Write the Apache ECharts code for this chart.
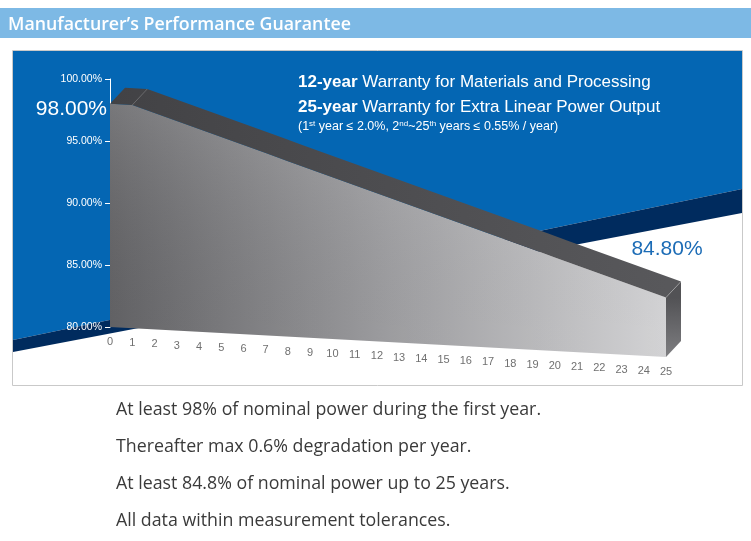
<!DOCTYPE html>
<html>
<head>
<meta charset="utf-8">
<script src="https://cdn.jsdelivr.net/npm/echarts@6/dist/echarts.min.js"></script>
<style>
html,body{margin:0;padding:0;background:#fff;}
#c{width:751px;height:541px;}
</style>
</head>
<body>
<div id="c"></div>
<script>
// ---- data ----
const headerTitle = 'Manufacturer\u2019s Performance Guarantee';
const years = [0,1,2,3,4,5,6,7,8,9,10,11,12,13,14,15,16,17,18,19,20,21,22,23,24,25];
const yearLabels = ['0','1','2','3','4','5','6','7','8','9','10','11','12','13','14','15','16','17','18','19','20','21','22','23','24','25'];
const guarantee = [98.00,98.00,97.45,96.90,96.35,95.80,95.25,94.70,94.15,93.60,93.05,92.50,91.95,91.40,90.85,90.30,89.75,89.20,88.65,88.10,87.55,87.00,86.45,85.90,85.35,84.80];
const yMin = 80, yMax = 100, yStep = 5;
const notes = [
  'At least 98% of nominal power during the first year.',
  'Thereafter max 0.6% degradation per year.',
  'At least 84.8% of nominal power up to 25 years.',
  'All data within measurement tolerances.'
];

// ---- style constants ----
const SHEAR = 30;          // px the floor drops from year 0 to year 25
const OFF = [15, -16];     // extrusion offset of the block
const SANS = '"Liberation Sans", Arial, sans-serif';
const BODY = '"Open Sans", Lato, sans-serif';

const chart = echarts.init(document.getElementById('c'), null, {renderer: 'canvas'});

function renderItem(params, api) {
  const i = params.dataIndex;
  const last = years.length - 1;
  const o = api.coord([years[0], yMin]);
  const e = api.coord([years[last], yMin]);
  const span = e[0] - o[0];
  const sh = p => [p[0], p[1] + (p[0] - o[0]) / span * SHEAR];
  const add = p => [p[0] + OFF[0], p[1] + OFF[1]];
  const yr = api.value(0);
  const A0 = sh(api.coord([yr, yMin]));
  const children = [];
  children.push({
    type: 'text', z2: 5,
    style: {text: yearLabels[i], x: A0[0], y: A0[1] + 15, align: 'center', verticalAlign: 'middle',
            fill: '#707070', fontSize: 11, fontFamily: SANS}
  });
  if (i === last) {
    const tops = years.map((y, k) => sh(api.coord([y, guarantee[k]])));
    const bottoms = years.map(y => sh(api.coord([y, yMin])));
    const frontGrad = new echarts.graphic.LinearGradient(o[0], 0, e[0], 0, [
      {offset: 0, color: '#656568'}, {offset: 0.5, color: '#a2a2a5'}, {offset: 1, color: '#dbdbdd'}
    ], true);
    const shadeGrad = new echarts.graphic.LinearGradient(0, tops[0][1], 0, o[1], [
      {offset: 0, color: 'rgba(255,255,255,0.12)'}, {offset: 1, color: 'rgba(0,0,0,0.04)'}
    ], true);
    const topGrad = new echarts.graphic.LinearGradient(o[0], 0, e[0], 0, [
      {offset: 0, color: '#424245'}, {offset: 1, color: '#58585b'}
    ], true);
    const frontPts = [bottoms[0]].concat(tops).concat([bottoms[last]]);
    children.push({type: 'polygon', shape: {points: frontPts}, style: {fill: frontGrad}});
    children.push({type: 'polygon', shape: {points: frontPts}, style: {fill: shadeGrad}});
    const topPts = tops.concat(tops.slice().reverse().map(add));
    children.push({type: 'polygon', shape: {points: topPts}, style: {fill: topGrad}});
    const T = tops[last], Bt = bottoms[last];
    const sideGrad = new echarts.graphic.LinearGradient(0, T[1], 0, Bt[1], [
      {offset: 0, color: '#525255'}, {offset: 1, color: '#7e7e81'}
    ], true);
    children.push({type: 'polygon', shape: {points: [T, Bt, add(Bt), add(T)]}, style: {fill: sideGrad}});
    [tops[1], T].forEach(p => {
      const q = add(p);
      children.push({type: 'line', z2: 3, shape: {x1: p[0], y1: p[1], x2: q[0], y2: q[1]},
        style: {stroke: 'rgba(255,255,255,0.3)', lineWidth: 0.7}});
    });
    children.push({type: 'text', z2: 6,
      style: {text: guarantee[last].toFixed(2) + '%', x: T[0] + 1, y: T[1] - 48, align: 'center', verticalAlign: 'middle',
              fill: '#1c6cb6', fontSize: 21, fontFamily: SANS}});
    children.push({type: 'text', z2: 6,
      style: {text: guarantee[0].toFixed(2) + '%', x: tops[0][0] - 3, y: tops[0][1] + 5, align: 'right', verticalAlign: 'middle',
              fill: '#ffffff', fontSize: 21, fontFamily: SANS}});
  }
  return {type: 'group', children: children};
}

const graphics = [
  {type: 'rect', z: -10, shape: {x: 0, y: 8, width: 751, height: 30}, style: {fill: '#7db9e5'}},
  {type: 'text', z: -9, style: {text: headerTitle, x: 8, y: 25, verticalAlign: 'middle',
     fill: '#ffffff', fontSize: 17.8, fontWeight: 600, fontFamily: BODY}},
  {type: 'rect', z: -10, shape: {x: 12.5, y: 50.5, width: 730, height: 335},
     style: {fill: '#ffffff', stroke: '#c9c9c9', lineWidth: 1}},
  {type: 'polygon', z: -9, shape: {points: [[13, 51], [742, 51], [742, 189], [13, 340]]}, style: {fill: '#0466b3'}},
  {type: 'polygon', z: -9, shape: {points: [[13, 340], [742, 189], [742, 213], [13, 352]]}, style: {fill: '#002b5e'}},
  {type: 'text', z: 50, style: {
     text: '{b|12-year} Warranty for Materials and Processing\n{b|25-year} Warranty for Extra Linear Power Output',
     x: 298, y: 70, fill: '#ffffff', fontSize: 17, fontFamily: SANS, lineHeight: 25,
     rich: {b: {fontWeight: 'bold', fontSize: 17, fontFamily: SANS, fill: '#ffffff', lineHeight: 25}}}},
  {type: 'text', z: 50, style: {
     text: '(1{s|st} year \u2264 2.0%, 2{s|nd}~25{s|th} years \u2264 0.55% / year)',
     x: 298, y: 120, fill: '#ffffff', fontSize: 12.5, fontFamily: SANS, lineHeight: 14,
     rich: {s: {fontSize: 8, fontFamily: SANS, fill: '#ffffff', verticalAlign: 'top', lineHeight: 14}}}}
];
notes.forEach((t, k) => {
  graphics.push({type: 'text', z: 10, style: {text: t, x: 116, y: 410 + k * 37, verticalAlign: 'middle',
    fill: '#3a3a3a', fontSize: 17.8, fontFamily: BODY}});
});

chart.setOption({
  animation: false,
  graphic: graphics,
  grid: {left: 110, right: 85, top: 79, bottom: 214},
  xAxis: {type: 'value', min: years[0], max: years[years.length - 1], show: false},
  yAxis: {
    type: 'value', min: yMin, max: yMax, interval: yStep,
    axisLine: {show: true, lineStyle: {color: '#ffffff', width: 1}},
    axisTick: {show: true, length: 5, lineStyle: {color: '#ffffff'}},
    axisLabel: {color: '#ffffff', fontSize: 10.5, fontFamily: SANS, margin: 8,
      formatter: v => v.toFixed(2) + '%'},
    splitLine: {show: false}
  },
  series: [{
    type: 'custom',
    renderItem: renderItem,
    data: years.map((y, k) => [y, guarantee[k]]),
    clip: false,
    z: 5
  }]
});
</script>
</body>
</html>
